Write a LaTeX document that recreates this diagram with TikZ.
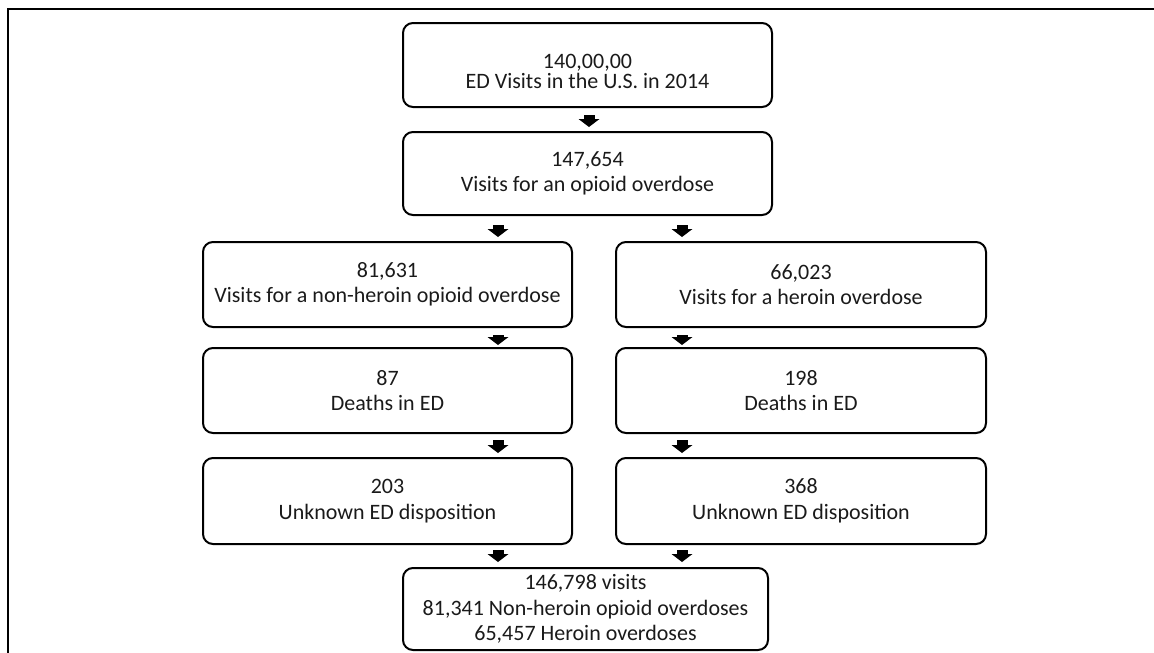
\documentclass[tikz,border=0pt]{standalone}
\usepackage{fontspec}
\setmainfont{Carlito}
\usetikzlibrary{arrows.meta,calc}
\definecolor{txt}{HTML}{1A1A1A}
\tikzset{
  box/.style={draw=black, line width=2pt, rounded corners=10pt, inner sep=0pt,
    align=center, text=txt, font=\fontsize{22}{25.5}\selectfont},
  blk/.style={draw=black, line width=11pt, -{Triangle[width=21pt,length=8pt,line width=0pt]}},
  frame/.style={draw=black, line width=2.2pt}
}
\begin{document}
\begin{tikzpicture}[x=1pt,y=-1pt]
\useasboundingbox (0,0) rectangle (1154,653);
\coordinate (fa) at (1154,9);
\coordinate (fb) at (8,9);
\coordinate (fc) at (8,653);
\draw[frame] (fa) -- (fb) -- (fc);
\coordinate (xL) at (498,0);
\coordinate (xR) at (682,0);
\coordinate (xM) at (589,0);
\node[box, minimum width=369pt, minimum height=84pt, font=\fontsize{22}{20}\selectfont] (top) at (587.5,65)
  {\rule{0pt}{27pt}140,00,00\\ED Visits in the U.S. in 2014};
\node[box, minimum width=369pt, minimum height=83pt] (b2) at (587.5,173.5)
  {147,654\\Visits for an opioid overdose};
\node[box, minimum width=369pt, minimum height=85pt] (l3) at (387.5,284.5)
  {81,631\\Visits for a non-heroin opioid overdose};
\node[box, minimum width=370pt, minimum height=85pt] (r3) at (801,284.5)
  {66,023\\Visits for a heroin overdose};
\node[box, minimum width=369pt, minimum height=85pt] (l4) at (387.5,390.5)
  {87\\Deaths in ED};
\node[box, minimum width=370pt, minimum height=85pt] (r4) at (801,390.5)
  {198\\Deaths in ED};
\node[box, minimum width=369pt, minimum height=86pt] (l5) at (387.5,501)
  {203\\Unknown ED disposition};
\node[box, minimum width=370pt, minimum height=86pt] (r5) at (801,501)
  {368\\Unknown ED disposition};
\node[box, minimum width=365pt, minimum height=82pt] (bot) at (585.5,609)
  {146,798 visits\\81,341 Non-heroin opioid overdoses\\65,457 Heroin overdoses};
% arrows
\draw[blk] ($(top.south -| xM)+(0,7)$) -- ($(b2.north -| xM)+(0,-4)$);
\draw[blk] ($(b2.south -| xL)+(0,9)$) -- ($(l3.north -| xL)+(0,-4)$);
\draw[blk] ($(b2.south -| xR)+(0,9)$) -- ($(r3.north -| xR)+(0,-4)$);
\draw[blk] ($(l3.south -| xL)+(0,7)$) -- ($(l4.north -| xL)+(0,-2)$);
\draw[blk] ($(r3.south -| xR)+(0,7)$) -- ($(r4.north -| xR)+(0,-2)$);
\draw[blk] ($(l4.south -| xL)+(0,6)$) -- ($(l5.north -| xL)+(0,-4)$);
\draw[blk] ($(r4.south -| xR)+(0,6)$) -- ($(r5.north -| xR)+(0,-4)$);
\draw[blk] ($(l5.south -| xL)+(0,5)$) -- ($(bot.north -| xL)+(0,-5)$);
\draw[blk] ($(r5.south -| xR)+(0,5)$) -- ($(bot.north -| xR)+(0,-5)$);
\end{tikzpicture}
\end{document}
